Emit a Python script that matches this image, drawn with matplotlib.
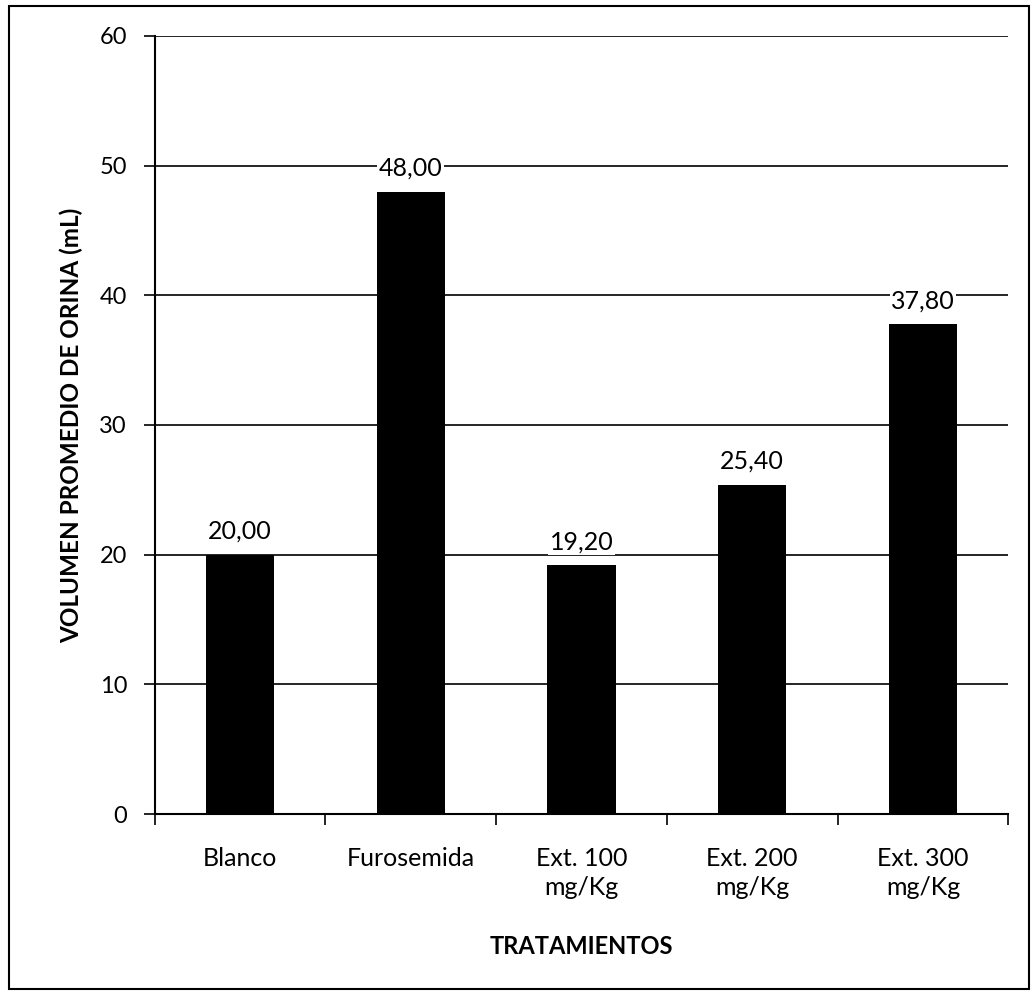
import matplotlib
matplotlib.use("Agg")
import matplotlib.pyplot as plt
from matplotlib.patches import Rectangle

categories = ["Blanco", "Furosemida", "Ext. 100\nmg/Kg", "Ext. 200\nmg/Kg", "Ext. 300\nmg/Kg"]
values = [20.00, 48.00, 19.20, 25.40, 37.80]
yticks = [0, 10, 20, 30, 40, 50, 60]

plt.rcParams['font.family'] = ['Lato', 'DejaVu Sans']

fig = plt.figure(figsize=(10.32, 9.97), dpi=100)
ax = fig.add_axes([0.150, 0.1835, 0.827, 0.7805])

x = list(range(len(categories)))
ax.set_axisbelow(True)
ax.yaxis.grid(True, color='black', linewidth=1.2)
ax.bar(x, values, width=0.4, color='black', zorder=3)

for xi, v in zip(x, values):
    ax.text(xi, v + 0.9, f"{v:.2f}".replace('.', ','), ha='center', va='bottom',
            fontsize=18, color='black', zorder=4,
            bbox=dict(facecolor='white', edgecolor='none', pad=1))

ax.set_xlim(-0.5, len(categories) - 0.5)
ax.set_ylim(0, 60)
ax.set_yticks(yticks)
ax.set_yticklabels([str(t) for t in yticks], fontsize=17)
ax.set_xticks(x)
ax.set_xticklabels(categories, fontsize=18, linespacing=1.3)
ax.tick_params(axis='x', length=0, pad=24)
ax.set_xticks([i - 0.5 for i in range(len(categories) + 1)], minor=True)
ax.tick_params(axis='x', which='minor', length=8, width=1.2, direction='out')
ax.tick_params(axis='y', length=8, width=1.2, direction='out', pad=12)

for s in ['top', 'right']:
    ax.spines[s].set_visible(False)
ax.spines['left'].set_linewidth(1.5)
ax.spines['bottom'].set_linewidth(1.5)

ax.set_ylabel("VOLUMEN PROMEDIO DE ORINA (mL)", fontsize=17.5, fontweight='bold', labelpad=12)
ax.set_xlabel("TRATAMIENTOS", fontsize=17, fontweight='bold', labelpad=26)

fig.patches.append(Rectangle((0.009, 0.008), 0.988, 0.986, transform=fig.transFigure,
                             fill=False, edgecolor='black', linewidth=1.5))

fig.savefig("out.png", dpi=100)
